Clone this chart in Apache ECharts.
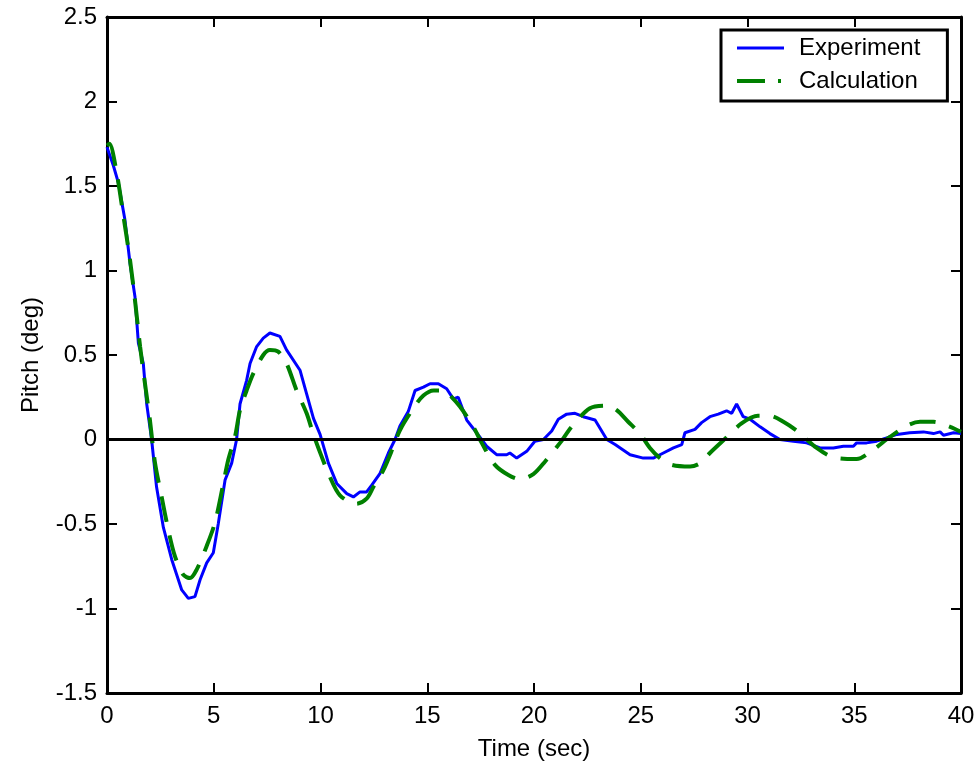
<!DOCTYPE html>
<html>
<head>
<meta charset="utf-8">
<script src="https://cdn.jsdelivr.net/npm/echarts@6/dist/echarts.min.js"></script>
<style>html,body{margin:0;padding:0;background:#fff}#c{width:979px;height:764px}</style>
</head>
<body>
<div id="c"></div>
<script>
const expTime = [0,0.3,0.53,0.84,1.08,1.31,1.47,1.70,1.86,2.09,2.32,2.64,3.03,3.50,3.81,4.12,4.36,4.67,4.98,5.21,5.53,5.84,6.07,6.23,6.54,6.70,7.01,7.32,7.63,8.10,8.41,9.04,9.35,9.67,9.98,10.37,10.76,11.23,11.54,11.85,12.16,12.40,12.79,13.18,13.49,13.72,14.11,14.43,14.82,15.13,15.52,15.91,16.22,16.45,16.85,17.31,17.78,18.25,18.72,18.87,19.19,19.66,20.04,20.44,20.83,21.14,21.53,21.92,22.31,22.86,23.41,23.80,24.50,25.12,25.59,26.06,26.53,26.92,27.07,27.54,27.85,28.24,28.63,29.02,29.26,29.49,29.80,30.12,30.59,31.05,31.52,32.15,32.77,33.40,34.02,34.49,34.96,35.11,35.58,36.05,36.52,37.0,37.6,38.24,38.71,39.02,39.18,39.65,40];
const expPitch = [1.73,1.62,1.52,1.30,1.04,0.845,0.57,0.45,0.21,0.0,-0.28,-0.52,-0.71,-0.89,-0.94,-0.93,-0.83,-0.73,-0.67,-0.50,-0.24,-0.14,0.0,0.21,0.35,0.45,0.55,0.60,0.63,0.61,0.53,0.41,0.27,0.125,0.03,-0.14,-0.26,-0.32,-0.34,-0.31,-0.31,-0.27,-0.20,-0.08,0.0,0.08,0.165,0.29,0.31,0.33,0.33,0.30,0.24,0.25,0.115,0.04,-0.04,-0.09,-0.09,-0.08,-0.11,-0.07,-0.01,0.0,0.05,0.12,0.15,0.155,0.135,0.115,0.0,-0.03,-0.09,-0.11,-0.11,-0.08,-0.05,-0.03,0.04,0.06,0.10,0.135,0.15,0.17,0.155,0.21,0.135,0.12,0.075,0.035,0.0,-0.01,-0.02,-0.05,-0.05,-0.04,-0.04,-0.02,-0.02,-0.01,0.01,0.03,0.04,0.045,0.035,0.045,0.025,0.04,0.035];
const calcTime = [0,0.11,0.45,0.76,1.08,1.31,1.55,1.78,2.01,2.25,2.56,2.87,3.18,3.57,3.89,4.20,4.67,5.06,5.45,5.68,6.0,6.23,6.54,6.85,7.32,7.63,8.02,8.41,8.88,9.35,9.67,10.05,10.40,10.91,11.69,12.16,12.48,12.95,13.42,13.72,14.35,14.82,15.30,15.77,16.0,16.53,17.16,17.55,18.17,18.80,19.34,19.97,20.52,21.22,21.76,22.62,23.40,23.86,24.41,24.96,25.43,25.90,26.45,27.31,27.78,28.24,28.87,29.72,30.49,31.05,31.68,32.38,33.24,34.02,35.11,35.89,36.67,37.53,38.08,38.71,39.49,40];
const calcPitch = [1.74,1.75,1.58,1.33,1.06,0.825,0.55,0.33,0.115,-0.14,-0.34,-0.535,-0.69,-0.80,-0.82,-0.77,-0.63,-0.49,-0.26,-0.12,0.02,0.175,0.29,0.39,0.50,0.53,0.52,0.45,0.29,0.155,0.03,-0.10,-0.21,-0.33,-0.38,-0.35,-0.28,-0.18,-0.04,0.055,0.185,0.26,0.29,0.29,0.27,0.195,0.075,-0.02,-0.15,-0.21,-0.235,-0.205,-0.13,-0.02,0.075,0.185,0.20,0.175,0.105,0.035,-0.05,-0.11,-0.15,-0.16,-0.14,-0.08,-0.005,0.095,0.14,0.14,0.105,0.045,-0.05,-0.105,-0.115,-0.06,0.015,0.085,0.105,0.105,0.075,0.045];
const zeroTime = [0,40];
const zeroPitch = [0,0];
const xTitle = 'Time (sec)';
const yTitle = 'Pitch (deg)';
const seriesNames = ['Experiment','Calculation'];

const zip = (a,b) => a.map((v,i)=>[v,b[i]]);
const FONT = 'Liberation Sans';
const FS = 24;
const axisCommon = {
  axisLine:{show:true,onZero:false,lineStyle:{color:'#000',width:3}},
  axisTick:{show:true,inside:true,length:10,lineStyle:{color:'#000',width:2}},
  splitLine:{show:false}
};
const chart = echarts.init(document.getElementById('c'), null, {renderer:'canvas'});
chart.setOption({
  animation:false,
  backgroundColor:'#fff',
  grid:{left:107,right:18,top:17,bottom:71,containLabel:false,outerBoundsMode:'none'},
  legend:{
    data:[
      {name:seriesNames[0],lineStyle:{color:'#0000ff',width:3,type:'solid'}},
      {name:seriesNames[1],lineStyle:{color:'#008000',width:4,type:[28,13,3,10]}}
    ],
    orient:'vertical',
    left:721, top:30,
    backgroundColor:'#fff',
    borderColor:'#000', borderWidth:3, borderRadius:0,
    padding:[6,27,8,14],
    itemWidth:47, itemHeight:24, itemGap:9,
    itemStyle:{opacity:0,color:'rgba(0,0,0,0)',borderWidth:0},
    textStyle:{fontFamily:FONT,fontSize:FS,color:'#000',padding:[0,0,0,10],lineHeight:24}
  },
  xAxis:[
    Object.assign({type:'value',min:0,max:40,interval:5,position:'bottom',
      name:xTitle,nameLocation:'middle',nameGap:44,
      nameTextStyle:{fontFamily:FONT,fontSize:FS,color:'#000'},
      axisLabel:{fontFamily:FONT,fontSize:FS,color:'#000',margin:11}},axisCommon),
    Object.assign({type:'value',min:0,max:40,interval:5,position:'top',axisLabel:{show:false}},axisCommon)
  ],
  yAxis:[
    Object.assign({type:'value',min:-1.5,max:2.5,interval:0.5,position:'left',
      name:yTitle,nameLocation:'middle',nameGap:64,nameRotate:90,
      nameTextStyle:{fontFamily:FONT,fontSize:FS,color:'#000'},
      axisLabel:{fontFamily:FONT,fontSize:FS,color:'#000',margin:10}},axisCommon),
    Object.assign({type:'value',min:-1.5,max:2.5,interval:0.5,position:'right',axisLabel:{show:false}},axisCommon)
  ],
  series:[
    {name:seriesNames[0],type:'line',data:zip(expTime,expPitch),symbol:'none',showSymbol:false,
      lineStyle:{color:'#0000ff',width:3},itemStyle:{color:'#0000ff'},z:3},
    {name:seriesNames[1],type:'line',data:zip(calcTime,calcPitch),symbol:'none',showSymbol:false,smooth:0.3,
      lineStyle:{color:'#008000',width:4,type:[26,14]},itemStyle:{color:'#008000'},z:4},
    {name:'zero',type:'line',data:zip(zeroTime,zeroPitch),symbol:'none',showSymbol:false,
      lineStyle:{color:'#000',width:3},z:5,silent:true}
  ]
});
</script>
</body>
</html>
